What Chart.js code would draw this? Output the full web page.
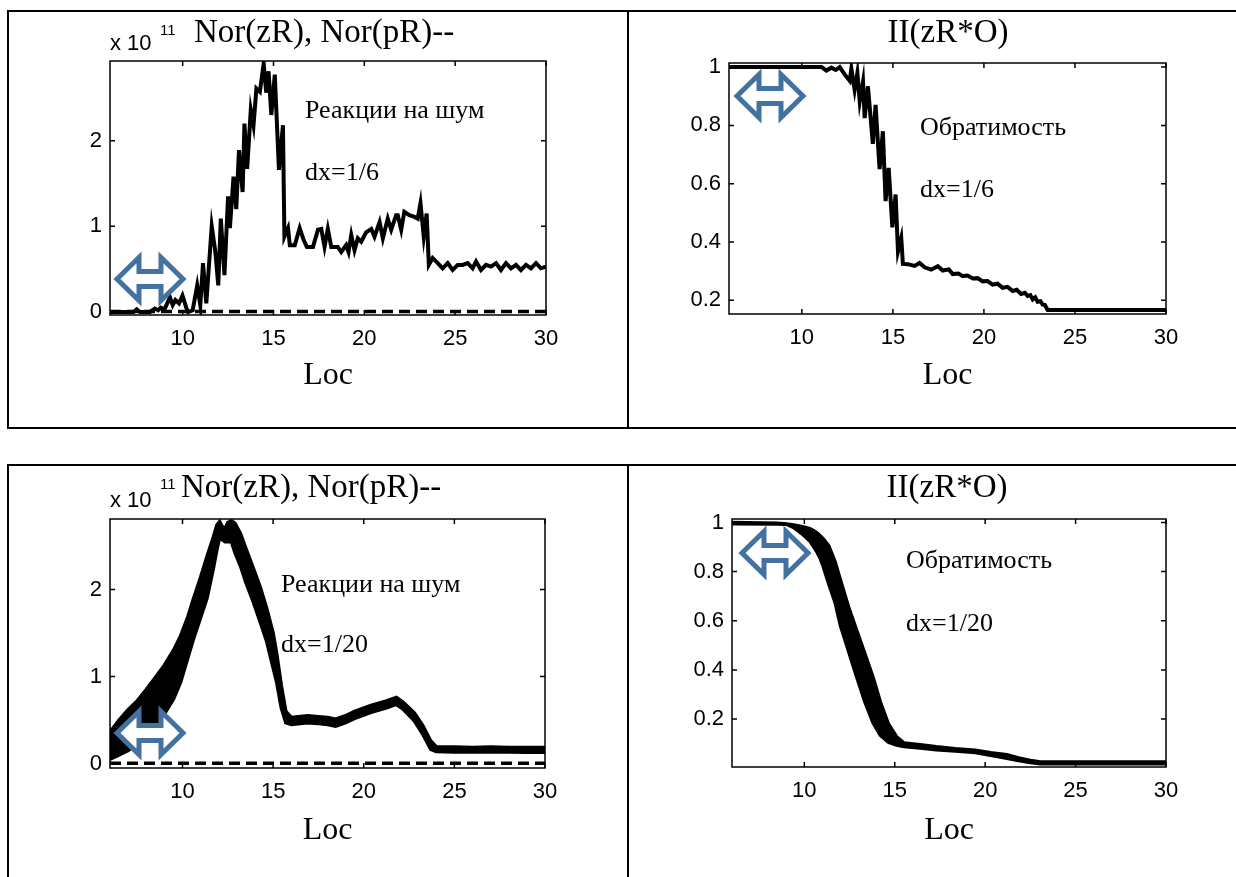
<!DOCTYPE html>
<html>
<head>
<meta charset="utf-8">
<script src="https://cdn.jsdelivr.net/npm/chart.js@4.4.1/dist/chart.umd.min.js"></script>
<style>
  html, body { margin: 0; padding: 0; background: #fff; }
  #page { position: relative; width: 1236px; height: 877px; overflow: hidden; background: #fff; }
  #page canvas { position: absolute; left: 0; top: 0; }
  .rule { position: absolute; background: #000; }
</style>
</head>
<body>
<div id="page">
  <!-- table frame -->
  <div class="rule" style="left:8px;top:10px;width:1228px;height:2px"></div>
  <div class="rule" style="left:8px;top:427px;width:1228px;height:2px"></div>
  <div class="rule" style="left:7px;top:10px;width:2px;height:419px"></div>
  <div class="rule" style="left:627px;top:10px;width:2px;height:419px"></div>
  <div class="rule" style="left:8px;top:464px;width:1228px;height:2px"></div>
  <div class="rule" style="left:7px;top:464px;width:2px;height:413px"></div>
  <div class="rule" style="left:627px;top:464px;width:2px;height:413px"></div>

  <canvas id="c1" width="1236" height="877"></canvas>
  <canvas id="c2" width="1236" height="877"></canvas>
  <canvas id="c3" width="1236" height="877"></canvas>
  <canvas id="c4" width="1236" height="877"></canvas>
</div>
<script>
// ---- data ----

// top left: Nor(zR), x 10^11, dx=1/6
var locZR6 = [6, 7.0, 7.3, 7.47, 7.65, 8.2, 8.47, 8.65, 8.8, 9.0, 9.3, 9.45, 9.6, 9.8, 9.99, 10.2, 10.3, 10.55,
  10.8, 10.97, 11.12, 11.3, 11.6, 11.8, 11.96, 12.1, 12.3, 12.5, 12.6, 12.8, 12.95, 13.1, 13.3, 13.4, 13.55, 13.75,
  13.9, 14.06, 14.25, 14.46, 14.6, 14.73, 14.88, 15.07, 15.3, 15.52, 15.6, 15.8, 15.9, 16.17, 16.44, 16.66, 16.84,
  17.17, 17.45, 17.63, 17.81, 17.99, 18.18, 18.54, 18.73, 19.0, 19.13, 19.28, 19.46, 19.64, 19.83, 20.1, 20.38,
  20.56, 20.84, 21.02, 21.29, 21.48, 21.75, 21.84, 22.03, 22.2, 22.48, 22.76, 22.94, 23.09, 23.27, 23.43, 23.55,
  23.76, 24.04, 24.31, 24.59, 24.86, 25.14, 25.41, 25.69, 25.96, 26.15, 26.42, 26.7, 26.97, 27.25, 27.52, 27.8,
  28.07, 28.35, 28.62, 28.9, 29.17, 29.45, 29.72, 30];
var norZR6 = [0.0, 0.0, 0.0, 0.03, 0.0, 0.0, 0.04, 0.02, 0.05, 0.03, 0.17, 0.08, 0.14, 0.1, 0.19, 0.05, 0.0, 0.02,
  0.31, 0.08, 0.57, 0.1, 1.0, 0.7, 0.31, 1.09, 0.43, 1.35, 0.98, 1.58, 1.2, 1.89, 1.4, 2.2, 1.67, 2.36,
  2.18, 2.61, 2.57, 2.9, 2.56, 2.81, 2.3, 2.77, 1.66, 2.18, 0.88, 0.98, 0.78, 0.78, 0.98, 0.84, 0.76,
  0.76, 0.96, 0.97, 0.76, 0.97, 0.76, 0.76, 0.7, 0.78, 0.7, 0.9, 0.72, 0.86, 0.82, 0.93, 0.97,
  0.88, 1.05, 0.86, 1.09, 0.96, 1.13, 1.13, 0.96, 1.17, 1.13, 1.11, 1.09, 1.27, 0.88, 1.15, 0.55,
  0.63, 0.57, 0.51, 0.57, 0.49, 0.55, 0.55, 0.57, 0.51, 0.59, 0.49, 0.55, 0.53, 0.57, 0.49, 0.57,
  0.51, 0.55, 0.49, 0.55, 0.51, 0.57, 0.51, 0.53];

// Nor(pR), dashed, practically zero on this scale
var locPR = [6, 12, 18, 24, 30];
var norPR = [0.005, 0.005, 0.005, 0.005, 0.005];

// top right: II(zR*O), dx=1/6
var locZO6 = [6, 11.08, 11.35, 11.63, 11.86, 12.08, 12.36, 12.63, 12.72, 12.9, 13.05, 13.18, 13.36, 13.45, 13.63,
  13.9, 14.05, 14.27, 14.45, 14.6, 14.77, 14.97, 15.15, 15.28, 15.46, 15.55, 15.82, 16.19, 16.47, 16.74, 17.1,
  17.47, 17.74, 18.07, 18.29, 18.6, 18.84, 19.1, 19.39, 19.65, 19.93, 20.2, 20.48, 20.75, 21.03, 21.3, 21.58,
  21.8, 22.04, 22.25, 22.4, 22.55, 22.68, 22.82, 22.95, 23.1, 23.22, 23.35, 23.5, 30];
var invZO6 = [1.0, 1.0, 0.988, 0.998, 0.99, 1.0, 0.974, 0.953, 0.995, 0.922, 0.98, 0.882, 0.95, 0.825, 0.934,
  0.737, 0.87, 0.65, 0.78, 0.54, 0.654, 0.45, 0.563, 0.368, 0.414, 0.325, 0.324, 0.318, 0.328, 0.313, 0.305,
  0.317, 0.302, 0.306, 0.29, 0.292, 0.283, 0.285, 0.275, 0.276, 0.265, 0.266, 0.254, 0.257, 0.243, 0.246, 0.232,
  0.236, 0.222, 0.226, 0.215, 0.218, 0.203, 0.21, 0.195, 0.197, 0.186, 0.184, 0.167, 0.167];

// bottom left: Nor(zR), dx=1/20 -- the curve oscillates, kept as upper/lower edge of the band
var locZR20 = [6.0, 6.5, 7.0, 7.5, 8.0, 8.5, 9.0, 9.5, 9.9, 10.3, 10.6, 11.0, 11.35, 11.7, 11.9, 12.05, 12.2, 12.35,
  12.5, 12.7, 12.9, 13.2, 13.5, 13.9, 14.3, 14.65, 15.0, 15.2, 15.45, 15.7, 16.0, 16.9, 17.5, 18.0, 18.45, 19.0,
  19.5, 20.4, 21.26, 21.8, 22.15, 22.8, 23.25, 23.7, 24.0, 25, 26, 27, 28, 29, 30];
var norZR20Hi = [0.36, 0.5, 0.62, 0.72, 0.85, 0.99, 1.13, 1.3, 1.47, 1.69, 1.89, 2.14, 2.38, 2.6, 2.74, 2.78, 2.72, 2.7,
  2.77, 2.79, 2.76, 2.64, 2.47, 2.25, 2.02, 1.78, 1.5, 1.26, 0.9, 0.6, 0.53, 0.55, 0.54, 0.53, 0.51, 0.55,
  0.6, 0.67, 0.72, 0.76, 0.71, 0.58, 0.44, 0.26, 0.195, 0.19, 0.185, 0.19, 0.185, 0.185, 0.185];
var norZR20Lo = [0.05, 0.1, 0.15, 0.23, 0.32, 0.45, 0.57, 0.74, 0.94, 1.22, 1.43, 1.68, 1.9, 2.24, 2.46, 2.6, 2.57, 2.55,
  2.55, 2.55, 2.42, 2.27, 2.08, 1.86, 1.62, 1.4, 1.1, 0.93, 0.64, 0.47, 0.45, 0.47, 0.46, 0.45, 0.43, 0.47,
  0.52, 0.59, 0.64, 0.68, 0.63, 0.49, 0.34, 0.165, 0.14, 0.135, 0.135, 0.135, 0.135, 0.13, 0.13];

// bottom right: II(zR*O), dx=1/20
var locZO20 = [6, 8.5, 9.0, 9.4, 9.85, 10.05, 10.3, 10.5, 10.7, 10.9, 11.05, 11.35, 11.7, 12.0, 12.45, 12.9, 13.35,
  13.8, 14.2, 14.65, 15.1, 15.5, 16.4, 17.3, 18.35, 19.45, 20.3, 21.2, 21.85, 22.5, 23.05, 25, 27.5, 30];
var invZO20Hi = [1.0, 0.997, 0.994, 0.99, 0.984, 0.98, 0.975, 0.967, 0.957, 0.944, 0.933, 0.905, 0.84, 0.765, 0.655,
  0.56, 0.465, 0.37, 0.27, 0.18, 0.128, 0.103, 0.096, 0.087, 0.079, 0.073, 0.063, 0.055, 0.042, 0.032, 0.025,
  0.025, 0.025, 0.025];
var invZO20Lo = [0.995, 0.994, 0.993, 0.98, 0.955, 0.942, 0.925, 0.903, 0.88, 0.85, 0.82, 0.75, 0.675, 0.58, 0.475,
  0.37, 0.27, 0.185, 0.135, 0.106, 0.094, 0.088, 0.082, 0.075, 0.07, 0.064, 0.053, 0.04, 0.031, 0.023, 0.018,
  0.018, 0.018, 0.018];

var xTickStep = 5;
var locRange = [6, 30];

// ---- drawing helpers ----
var PAGE_W = 1236, PAGE_H = 877;
var Y_AXIS_W = 70, X_AXIS_H = 45;
var tickFont = { family: '"Liberation Sans", Arial, sans-serif', size: 22 };
var serif = '"Liberation Serif", "Times New Roman", serif';
var arrowBlue = '#4472a0';

function toPoints(xs, ys) {
  return xs.map(function(x, i) { return { x: x, y: ys[i] }; });
}

function drawDoubleArrow(ctx, cx, cy) {
  var w = 66, h = 43, head = 22, shaft = 15;
  var l = cx - w / 2, r = cx + w / 2;
  ctx.beginPath();
  ctx.moveTo(l, cy);
  ctx.lineTo(l + head, cy - h / 2);
  ctx.lineTo(l + head, cy - shaft / 2);
  ctx.lineTo(r - head, cy - shaft / 2);
  ctx.lineTo(r - head, cy - h / 2);
  ctx.lineTo(r, cy);
  ctx.lineTo(r - head, cy + h / 2);
  ctx.lineTo(r - head, cy + shaft / 2);
  ctx.lineTo(l + head, cy + shaft / 2);
  ctx.lineTo(l + head, cy + h / 2);
  ctx.closePath();
  ctx.fillStyle = '#fff';
  ctx.fill();
  ctx.lineWidth = 5;
  ctx.lineJoin = 'miter';
  ctx.strokeStyle = arrowBlue;
  ctx.stroke();
}

// MATLAB style frame, inward ticks, titles and notes
var panelDecor = {
  id: 'panelDecor',
  afterDraw: function(chart, args, opts) {
    var ctx = chart.ctx, a = chart.chartArea;
    var xs = chart.scales.x, ys = chart.scales.y;
    ctx.save();

    ctx.strokeStyle = '#000';
    ctx.lineWidth = 1.5;
    ctx.strokeRect(a.left, a.top, a.right - a.left, a.bottom - a.top);
    ctx.beginPath();
    xs.ticks.forEach(function(t) {
      var px = xs.getPixelForValue(t.value);
      ctx.moveTo(px, a.bottom); ctx.lineTo(px, a.bottom - 5);
      ctx.moveTo(px, a.top); ctx.lineTo(px, a.top + 5);
    });
    ys.ticks.forEach(function(t) {
      var py = ys.getPixelForValue(t.value);
      ctx.moveTo(a.left, py); ctx.lineTo(a.left + 5, py);
      ctx.moveTo(a.right, py); ctx.lineTo(a.right - 5, py);
    });
    ctx.stroke();

    ctx.fillStyle = '#000';
    ctx.textBaseline = 'alphabetic';

    // title
    ctx.font = '33px ' + serif;
    ctx.textAlign = opts.title.align;
    ctx.fillText(opts.title.text, opts.title.x, opts.title.y);

    // exponent label
    if (opts.exp) {
      ctx.textAlign = 'left';
      ctx.font = '22px "Liberation Sans", Arial, sans-serif';
      ctx.fillText('x 10', opts.exp.x, opts.exp.y);
      ctx.font = '15px "Liberation Sans", Arial, sans-serif';
      ctx.fillText('11', opts.exp.supX, opts.exp.supY);
    }

    // x axis label
    ctx.textAlign = 'center';
    ctx.font = '32px ' + serif;
    ctx.fillText('Loc', (a.left + a.right) / 2, opts.locY);

    // notes inside the plot
    ctx.textAlign = 'left';
    ctx.font = '26px ' + serif;
    opts.notes.forEach(function(n) { ctx.fillText(n.text, n.x, n.y); });

    drawDoubleArrow(ctx, opts.arrow.x, opts.arrow.y);
    ctx.restore();
  }
};

function makePanel(id, area, yRange, yStep, datasets, decor) {
  return new Chart(document.getElementById(id), {
    type: 'line',
    data: { datasets: datasets },
    options: {
      responsive: false,
      animation: false,
      events: [],
      layout: {
        padding: {
          left: area[0] - Y_AXIS_W,
          top: area[1],
          right: PAGE_W - area[2],
          bottom: PAGE_H - area[3] - X_AXIS_H
        }
      },
      elements: { point: { radius: 0 }, line: { tension: 0 } },
      plugins: {
        legend: { display: false },
        tooltip: { enabled: false },
        panelDecor: decor
      },
      scales: {
        x: {
          type: 'linear',
          min: locRange[0],
          max: locRange[1],
          afterFit: function(s) { s.height = X_AXIS_H; },
          grid: { display: false, drawTicks: false },
          border: { display: false },
          ticks: { stepSize: xTickStep, includeBounds: false, padding: 11, color: '#000', font: tickFont, maxRotation: 0 }
        },
        y: {
          type: 'linear',
          min: yRange[0],
          max: yRange[1],
          afterFit: function(s) { s.width = Y_AXIS_W; },
          grid: { display: false, drawTicks: false },
          border: { display: false },
          ticks: {
            stepSize: yStep, includeBounds: false, padding: 8, color: '#000', font: tickFont,
            callback: function(v) { return String(Math.round(v * 10) / 10); }
          }
        }
      }
    },
    plugins: [panelDecor]
  });
}

function solid(points) {
  return { data: points, borderColor: '#000', borderWidth: 4, fill: false };
}
function dashed(points) {
  return { data: points, borderColor: '#000', borderWidth: 3.5, borderDash: [11, 6], fill: false };
}
function band(lo, hi) {
  return [
    { data: lo, borderColor: '#000', borderWidth: 3.5, fill: false },
    { data: hi, borderColor: '#000', borderWidth: 3.5, backgroundColor: '#000', fill: '-1' }
  ];
}

// ---- panels ----
makePanel('c1', [110, 61, 546, 315], [-0.035, 2.93], 1,
  [solid(toPoints(locZR6, norZR6)), dashed(toPoints(locPR, norPR))],
  {
    title: { text: 'Nor(zR), Nor(pR)--', x: 194, y: 42, align: 'left' },
    exp: { x: 110, y: 50, supX: 160, supY: 35 },
    locY: 384,
    notes: [{ text: 'Реакции на шум', x: 305, y: 118 }, { text: 'dx=1/6', x: 305, y: 180 }],
    arrow: { x: 150, y: 279 }
  });

makePanel('c2', [729, 63, 1166, 314], [0.153, 1.014], 0.2,
  [solid(toPoints(locZO6, invZO6))],
  {
    title: { text: 'II(zR*O)', x: 948, y: 42, align: 'center' },
    exp: null,
    locY: 384,
    notes: [{ text: 'Обратимость', x: 920, y: 135 }, { text: 'dx=1/6', x: 920, y: 197 }],
    arrow: { x: 770, y: 96 }
  });

makePanel('c3', [110, 519, 545, 768], [-0.05, 2.81], 1,
  band(toPoints(locZR20, norZR20Lo), toPoints(locZR20, norZR20Hi)).concat([dashed(toPoints(locPR, norPR))]),
  {
    title: { text: 'Nor(zR), Nor(pR)--', x: 181, y: 497, align: 'left' },
    exp: { x: 110, y: 507, supX: 160, supY: 489 },
    locY: 839,
    notes: [{ text: 'Реакции на шум', x: 281, y: 592 }, { text: 'dx=1/20', x: 281, y: 652 }],
    arrow: { x: 150, y: 733 }
  });

makePanel('c4', [732, 519, 1166, 767], [0.005, 1.014], 0.2,
  band(toPoints(locZO20, invZO20Lo), toPoints(locZO20, invZO20Hi)),
  {
    title: { text: 'II(zR*O)', x: 947, y: 497, align: 'center' },
    exp: null,
    locY: 839,
    notes: [{ text: 'Обратимость', x: 906, y: 568 }, { text: 'dx=1/20', x: 906, y: 631 }],
    arrow: { x: 775, y: 553 }
  });
</script>
</body>
</html>
